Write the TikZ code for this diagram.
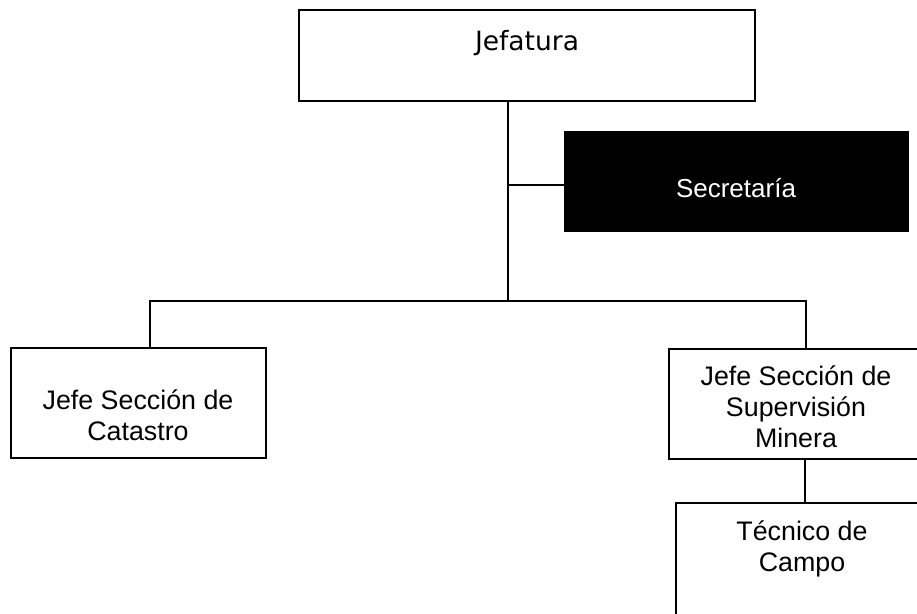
\documentclass[tikz,border=0pt]{standalone}
\usepackage{fontspec}
\setmainfont{Liberation Sans}
\newfontfamily\dejavu{DejaVu Sans}
\begin{document}
\begin{tikzpicture}[x=1pt,y=-1pt,
  box/.style={draw=black,line width=2.2pt,rectangle,inner sep=0pt},
  conn/.style={draw=black,line width=2pt},
  txt/.style={inner sep=0pt,font=\fontsize{26.8}{31}\selectfont}]
\useasboundingbox (0,0) rectangle (917,613);
% boxes
\node[box,minimum width=456pt,minimum height=91pt] (jef) at (527,55.5) {};
\node[box,fill=black,minimum width=343pt,minimum height=99pt] (sec) at (736.5,181.5) {};
\node[box,minimum width=255pt,minimum height=110pt] (cat) at (138.5,403) {};
\node[box,minimum width=256pt,minimum height=110pt] (sup) at (797,404) {};
\node[box,minimum width=254pt,minimum height=137pt] (tec) at (803,571.5) {};
% texts
\node[txt,anchor=base,font=\dejavu\fontsize{26.5}{31}\selectfont] (tjef) at (527,50) {Jefatura};
\node[txt,anchor=base,text=white,font=\fontsize{26}{31}\selectfont] (tsec) at (736,197) {Secretaría};
\node[txt,anchor=base] (tcat) at (138,409) {\begin{tabular}[t]{@{}c@{}}Jefe Sección de\\Catastro\end{tabular}};
\node[txt,anchor=base] (tsup) at (796,385) {\begin{tabular}[t]{@{}c@{}}Jefe Sección de\\Supervisión\\Minera\end{tabular}};
\node[txt,anchor=base] (ttec) at (802,540) {\begin{tabular}[t]{@{}c@{}}Técnico de\\Campo\end{tabular}};
% connector points
\coordinate (bus) at (508,301);
\coordinate (busL) at (150,301);
\coordinate (busR) at (806,301);
\coordinate (sj) at (508,185);
\coordinate (st) at (805,480);
% connectors
\draw[conn] (jef.south -| bus) -- (bus);
\draw[conn] (sj) -- (sec.west |- sj);
\draw[conn] (cat.north -| busL) -- (busL) -- (busR) -- (sup.north -| busR);
\draw[conn] (sup.south -| st) -- (tec.north -| st);
\end{tikzpicture}
\end{document}
